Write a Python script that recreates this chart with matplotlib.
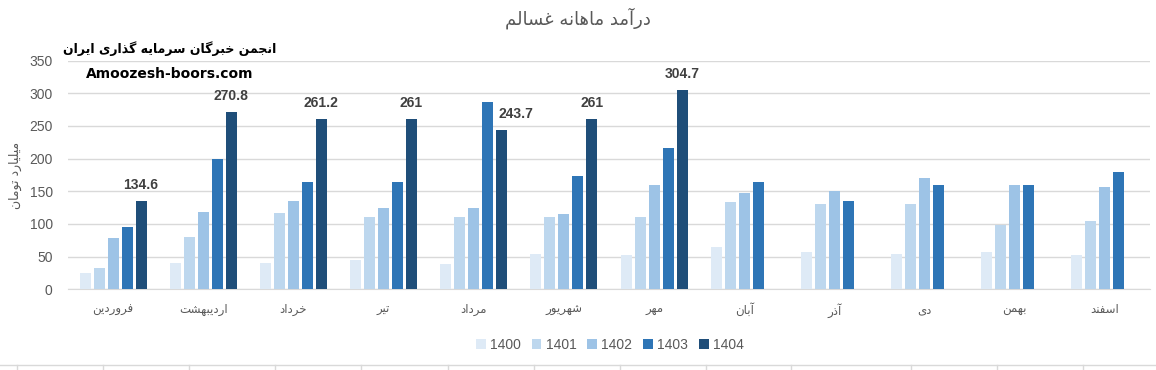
import numpy as np
import matplotlib
matplotlib.use("Agg")
import matplotlib.pyplot as plt
from matplotlib.lines import Line2D
from matplotlib.patches import Patch

# data
months = ["فروردین", "اردیبهشت", "خرداد", "تیر", "مرداد", "شهریور",
          "مهر", "آبان", "آذر", "دی", "بهمن", "اسفند"]
years = ["1400", "1401", "1402", "1403", "1404"]
v1400 = [25, 41, 40, 45, 38, 54, 52, 64, 57, 54, 57, 52]
v1401 = [32, 80, 117, 110, 110, 110, 110, 133, 130, 130, 98, 104]
v1402 = [78, 118, 135, 125, 124, 115, 159, 148, 150, 171, 159, 156]
v1403 = [95, 200, 164, 164, 286, 174, 217, 164, 135, 160, 160, 180]
v1404 = [134.6, 270.8, 261.2, 261, 243.7, 261, 304.7, np.nan, np.nan, np.nan, np.nan, np.nan]

title = "درآمد ماهانه غسالم"
ylabel = "میلیارد تومان"
brand_fa = "انجمن خبرگان سرمایه گذاری ایران"
brand_en = "Amoozesh-boors.com"

colors = ["#DEEAF6", "#BDD7EE", "#9DC3E6", "#2E75B6", "#1F4E79"]

# minimal persian shaping (matplotlib has no bidi / joining support)
FORMS = {
    "ا": ("\uFE8D", "\uFE8E", None, None),
    "آ": ("\uFE81", "\uFE82", None, None),
    "د": ("\uFEA9", "\uFEAA", None, None),
    "ذ": ("\uFEAB", "\uFEAC", None, None),
    "ر": ("\uFEAD", "\uFEAE", None, None),
    "ز": ("\uFEAF", "\uFEB0", None, None),
    "و": ("\uFEED", "\uFEEE", None, None),
    "ب": ("\uFE8F", "\uFE90", "\uFE91", "\uFE92"),
    "ت": ("\uFE95", "\uFE96", "\uFE97", "\uFE98"),
    "ج": ("\uFE9D", "\uFE9E", "\uFE9F", "\uFEA0"),
    "خ": ("\uFEA5", "\uFEA6", "\uFEA7", "\uFEA8"),
    "س": ("\uFEB1", "\uFEB2", "\uFEB3", "\uFEB4"),
    "ش": ("\uFEB5", "\uFEB6", "\uFEB7", "\uFEB8"),
    "غ": ("\uFECD", "\uFECE", "\uFECF", "\uFED0"),
    "ف": ("\uFED1", "\uFED2", "\uFED3", "\uFED4"),
    "ل": ("\uFEDD", "\uFEDE", "\uFEDF", "\uFEE0"),
    "م": ("\uFEE1", "\uFEE2", "\uFEE3", "\uFEE4"),
    "ن": ("\uFEE5", "\uFEE6", "\uFEE7", "\uFEE8"),
    "ه": ("\uFEE9", "\uFEEA", "\uFEEB", "\uFEEC"),
    "ی": ("\uFBFC", "\uFBFD", "\uFBFE", "\uFBFF"),
    "گ": ("\uFB92", "\uFB93", "\uFB94", "\uFB95"),
}


def fa(text):
    out = []
    n = len(text)
    for i, ch in enumerate(text):
        if ch not in FORMS:
            out.append(ch)
            continue
        iso, fin, ini, med = FORMS[ch]
        prev = i > 0 and text[i - 1] in FORMS and FORMS[text[i - 1]][2] is not None
        nxt = ini is not None and i + 1 < n and text[i + 1] in FORMS
        if prev and nxt:
            out.append(med)
        elif prev:
            out.append(fin)
        elif nxt:
            out.append(ini)
        else:
            out.append(iso)
    return "".join(out[::-1])


plt.rcParams["font.family"] = ["DejaVu Sans"]
grey = "#595959"

fig = plt.figure(figsize=(11.56, 3.70), dpi=100)
ax = fig.add_axes([68 / 1156, 1 - 289.3 / 370, (1150 - 68) / 1156, (289.3 - 60.6) / 370])

x = np.arange(len(months))
series = [v1400, v1401, v1402, v1403, v1404]
step, width = 0.155, 0.122
for k, vals in enumerate(series):
    ax.bar(x + (k - 2) * step, vals, width, color=colors[k], label=years[k], zorder=3)

# data labels on 1404
for i, v in enumerate(v1404):
    if np.isnan(v):
        continue
    dx = 10 if i == 4 else 0
    ax.annotate(f"{v:g}", (x[i] + 2 * step, v), xytext=(dx, 11.5), textcoords="offset points",
                ha="center", va="center", fontsize=10, fontweight="bold",
                color="#404040", family="Liberation Sans")

ax.set_xlim(-0.5, len(months) - 0.5)
ax.set_ylim(0, 350)
ax.set_yticks(np.arange(0, 351, 50))
ax.yaxis.grid(True, color="#D9D9D9", linewidth=1, zorder=0)
ax.tick_params(axis="y", length=0, pad=11, labelsize=10, labelcolor=grey)
for lab in ax.get_yticklabels():
    lab.set_family("Liberation Sans")
ax.set_xticks(x)
ax.set_xticklabels([fa(m) for m in months], fontsize=8.5, color=grey)
ax.tick_params(axis="x", length=0, pad=10)
for s in ["top", "right", "left"]:
    ax.spines[s].set_visible(False)
ax.spines["bottom"].set_color("#D9D9D9")

fig.text(0.5, 1 - 18 / 370, fa(title), ha="center", va="center", fontsize=13, color=grey)
fig.text(15 / 1156, 1 - 175 / 370, fa(ylabel), rotation=90, ha="center", va="center",
         fontsize=9, color=grey)
fig.text(170 / 1156, 1 - 49 / 370, fa(brand_fa), ha="center", va="center",
         fontsize=9, fontweight="bold", color="black")
fig.text(170 / 1156, 1 - 74 / 370, brand_en, ha="center", va="center",
         fontsize=10, fontweight="bold", color="black")

handles = [Patch(facecolor=c, edgecolor="none") for c in colors]
fig.legend(handles, years, loc="center", bbox_to_anchor=(610 / 1156, 1 - 345 / 370), ncol=5,
           frameon=False, handlelength=0.7, handleheight=0.7, handletextpad=0.3,
           columnspacing=0.8, prop={"family": "Liberation Sans", "size": 10}, labelcolor=grey)

# sheet cell border under the chart
fig.add_artist(Line2D([0, 1], [1 - 365 / 370] * 2, color="#D9D9D9", lw=1))
for px in [17, 103, 189, 275, 361, 448, 534, 620, 706, 791, 911, 997, 1083]:
    fig.add_artist(Line2D([px / 1156] * 2, [0, 1 - 365 / 370], color="#D9D9D9", lw=1))

fig.savefig("out.png", dpi=100, facecolor="white")
